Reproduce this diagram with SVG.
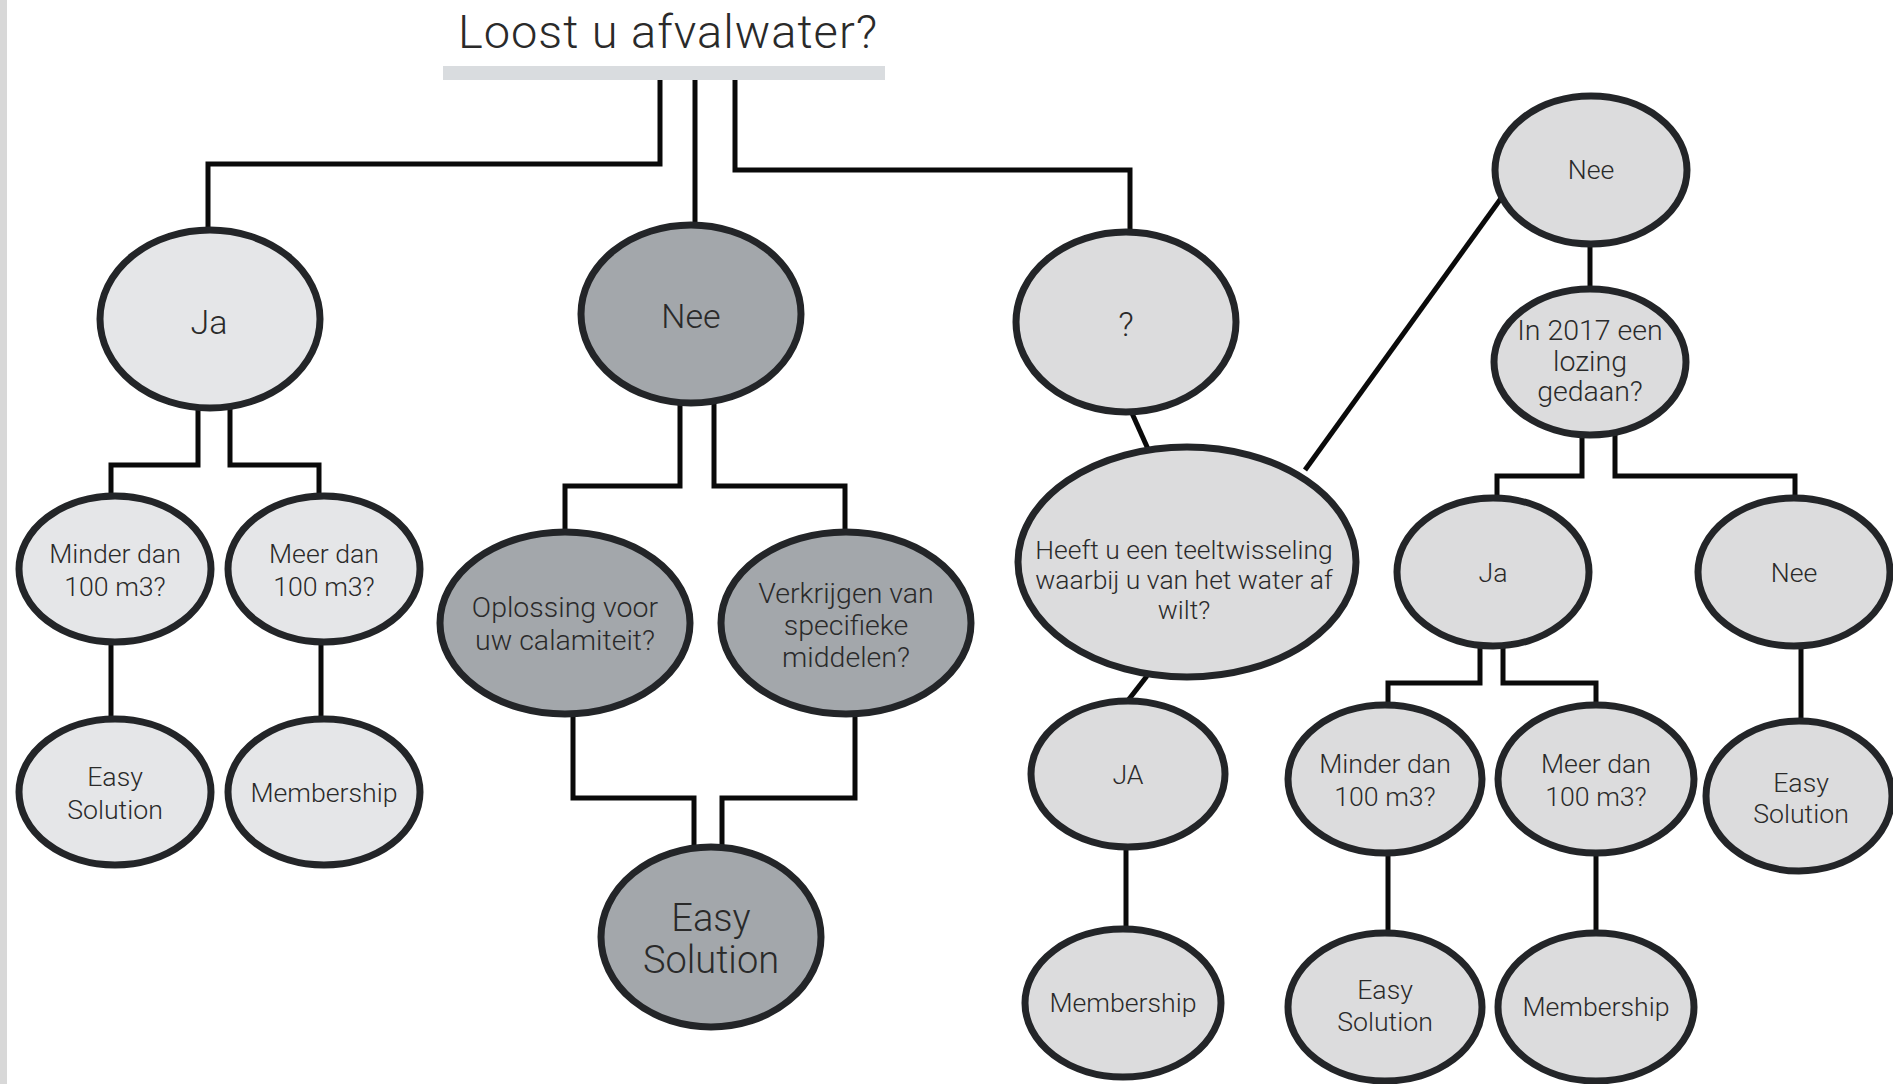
<svg xmlns="http://www.w3.org/2000/svg" width="1893" height="1084" viewBox="0 0 1893 1084">
<style>
.ln{fill:none;stroke:#0a0a0a;stroke-width:5;stroke-linejoin:miter}
.n ellipse{stroke:#232528;stroke-width:7}
.lt{fill:#e5e6e8}
.md{fill:#dcdcdd}
.dk{fill:#a3a7ab}
text{font-family:Roboto,"Liberation Sans",sans-serif;font-weight:300;fill:#2a2a2a;text-anchor:middle}
.s{font-size:26.7px}
.m{font-size:28.5px}
.h{font-size:26.5px}
.b{font-size:34px}
.e{font-size:38px}
</style>
<rect x="0" y="0" width="1893" height="1084" fill="#ffffff"/>
<rect x="0" y="0" width="7" height="1084" fill="#d8d8d8"/>

<g id="title">
<text x="668" y="48" style="font-size:47px;letter-spacing:1px">Loost u afvalwater?</text>
<rect x="443" y="66" width="442" height="14" fill="#d9dcdf"/>
</g>

<g id="connectors">
<polyline class="ln" points="660,80 660,164 208,164 208,230"/>
<polyline class="ln" points="695,80 695,224"/>
<polyline class="ln" points="735,80 735,170 1130,170 1130,234"/>
<polyline class="ln" points="198,406 198,465 111,465 111,497"/>
<polyline class="ln" points="230,406 230,465 319,465 319,497"/>
<polyline class="ln" points="111,641 111,720"/>
<polyline class="ln" points="321,641 321,720"/>
<polyline class="ln" points="680,402 680,486 565,486 565,533"/>
<polyline class="ln" points="714,402 714,486 845,486 845,533"/>
<polyline class="ln" points="573,714 573,798 694,798 694,849"/>
<polyline class="ln" points="855,714 855,798 722,798 722,849"/>
<line class="ln" x1="1131" y1="411" x2="1148" y2="449"/>
<line class="ln" x1="1147" y1="676" x2="1126" y2="703"/>
<line class="ln" x1="1305" y1="470" x2="1502" y2="197"/>
<polyline class="ln" points="1590,243 1590,290"/>
<polyline class="ln" points="1582,434 1582,476 1497,476 1497,500"/>
<polyline class="ln" points="1615,434 1615,476 1795,476 1795,500"/>
<polyline class="ln" points="1480,645 1480,683 1388,683 1388,706"/>
<polyline class="ln" points="1503,645 1503,683 1596,683 1596,706"/>
<polyline class="ln" points="1126,846 1126,930"/>
<polyline class="ln" points="1388,852 1388,934"/>
<polyline class="ln" points="1596,852 1596,934"/>
<polyline class="ln" points="1801,645 1801,722"/>
</g>

<g id="n-ja" class="n"><ellipse class="lt" cx="210" cy="319" rx="110" ry="89"/><text class="b" x="209" y="334">Ja</text></g>
<g id="n-nee" class="n"><ellipse class="dk" cx="691" cy="314" rx="110" ry="89"/><text class="b" x="691" y="328">Nee</text></g>
<g id="n-q" class="n"><ellipse class="md" cx="1126" cy="322" rx="110" ry="90"/><text class="b" x="1126" y="336">?</text></g>
<g id="n-nee-tr" class="n"><ellipse class="md" cx="1591" cy="170" rx="96" ry="74"/><text class="s" x="1591" y="179">Nee</text></g>
<g id="n-2017" class="n"><ellipse class="md" cx="1590" cy="362" rx="96" ry="73"/><text class="m" x="1590" y="340">In 2017 een</text><text class="m" x="1590" y="371">lozing</text><text class="m" x="1590" y="401">gedaan?</text></g>
<g id="n-minder-l" class="n"><ellipse class="lt" cx="115" cy="569" rx="96" ry="73"/><text class="s" x="115" y="563">Minder dan</text><text class="s" x="115" y="596">100 m3?</text></g>
<g id="n-meer-l" class="n"><ellipse class="lt" cx="324" cy="569" rx="96" ry="73"/><text class="s" x="324" y="563">Meer dan</text><text class="s" x="324" y="596">100 m3?</text></g>
<g id="n-easy-l" class="n"><ellipse class="lt" cx="115" cy="792" rx="96" ry="73"/><text class="s" x="115" y="786">Easy</text><text class="s" x="115" y="819">Solution</text></g>
<g id="n-member-l" class="n"><ellipse class="lt" cx="324" cy="792" rx="96" ry="73"/><text class="s" x="324" y="802">Membership</text></g>
<g id="n-oplossing" class="n"><ellipse class="dk" cx="565" cy="623" rx="125" ry="91"/><text class="m" x="565" y="617">Oplossing voor</text><text class="m" x="565" y="650">uw calamiteit?</text></g>
<g id="n-verkrijgen" class="n"><ellipse class="dk" cx="846" cy="623" rx="125" ry="91"/><text class="m" x="846" y="603">Verkrijgen van</text><text class="m" x="846" y="635">specifieke</text><text class="m" x="846" y="667">middelen?</text></g>
<g id="n-easy-big" class="n"><ellipse class="dk" cx="711" cy="937" rx="110" ry="90"/><text class="e" x="711" y="931">Easy</text><text class="e" x="711" y="973">Solution</text></g>
<g id="n-heeft" class="n"><ellipse class="md" cx="1187" cy="562" rx="169" ry="115"/><text class="h" x="1184" y="559">Heeft u een teeltwisseling</text><text class="h" x="1184" y="589">waarbij u van het water af</text><text class="h" x="1184" y="619">wilt?</text></g>
<g id="n-JA" class="n"><ellipse class="md" cx="1128" cy="774" rx="97" ry="73"/><text class="s" x="1128" y="784">JA</text></g>
<g id="n-member-ja" class="n"><ellipse class="md" cx="1123" cy="1003" rx="98" ry="74"/><text class="s" x="1123" y="1012">Membership</text></g>
<g id="n-ja-r" class="n"><ellipse class="md" cx="1493" cy="572" rx="96" ry="74"/><text class="s" x="1493" y="582">Ja</text></g>
<g id="n-nee-r" class="n"><ellipse class="md" cx="1794" cy="572" rx="96" ry="74"/><text class="s" x="1794" y="582">Nee</text></g>
<g id="n-minder-r" class="n"><ellipse class="md" cx="1385" cy="779" rx="97" ry="74"/><text class="s" x="1385" y="773">Minder dan</text><text class="s" x="1385" y="806">100 m3?</text></g>
<g id="n-meer-r" class="n"><ellipse class="md" cx="1596" cy="779" rx="98" ry="74"/><text class="s" x="1596" y="773">Meer dan</text><text class="s" x="1596" y="806">100 m3?</text></g>
<g id="n-easy-fr" class="n"><ellipse class="md" cx="1799" cy="796" rx="93" ry="75"/><text class="s" x="1801" y="792">Easy</text><text class="s" x="1801" y="823">Solution</text></g>
<g id="n-easy-r" class="n"><ellipse class="md" cx="1385" cy="1007" rx="97" ry="74"/><text class="s" x="1385" y="999">Easy</text><text class="s" x="1385" y="1031">Solution</text></g>
<g id="n-member-r" class="n"><ellipse class="md" cx="1596" cy="1007" rx="98" ry="74"/><text class="s" x="1596" y="1016">Membership</text></g>
</svg>
